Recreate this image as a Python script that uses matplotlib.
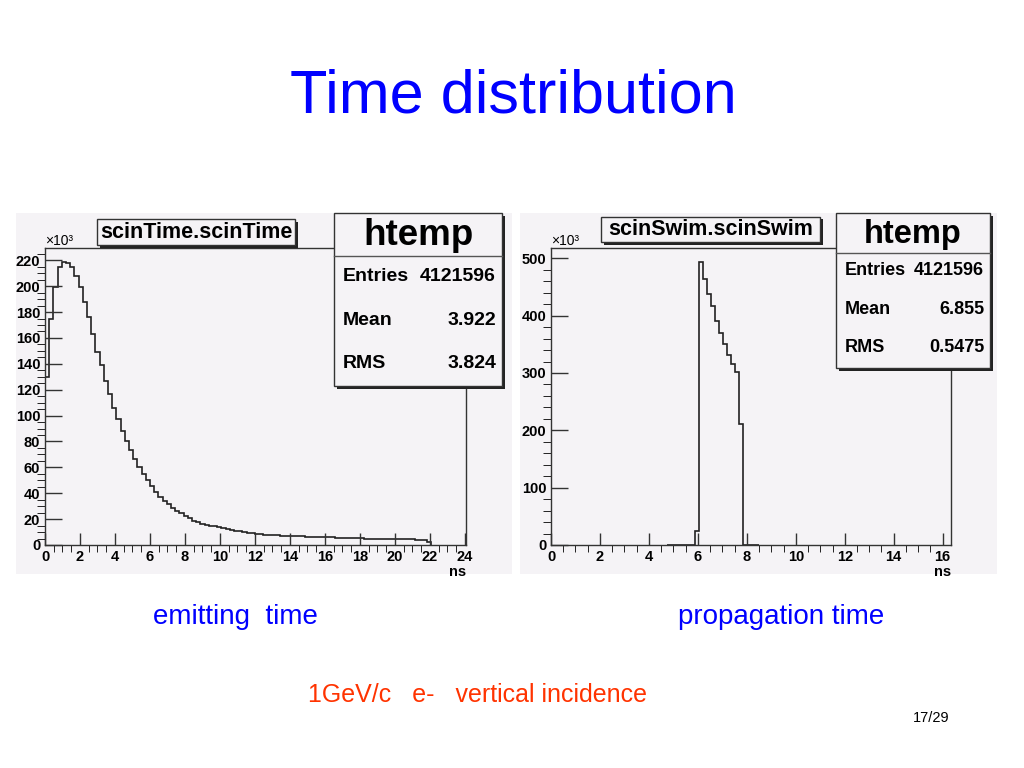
import numpy as np
import matplotlib.pyplot as plt
from matplotlib.patches import Rectangle
from matplotlib.ticker import MultipleLocator

plt.rcParams['font.family'] = ['Liberation Sans', 'DejaVu Sans']

# emitting time: entries (x10^3) per 0.24 ns bin, starting at 0 ns
emit_width = 0.24
emit_counts = [130, 175, 199.5, 215, 218.5, 218, 215, 208, 199, 188, 176, 163,
               149, 139, 127, 116.6, 105.5, 97, 88.3, 80.3, 73.4, 66.2, 60.5, 54.8,
               50.2, 45.6, 41.2, 37.3, 34.2, 31.7, 28.8, 26.5, 24.5, 22.4, 20.6, 18.8,
               17.6, 16.6, 15.8, 15.0, 14.3, 13.6, 12.9, 12.2, 11.6, 11.0, 10.5, 10.0,
               9.5, 9.1, 8.7, 8.4, 8.1, 7.8, 7.6, 7.4, 7.2, 7.0, 6.9, 6.8,
               6.7, 6.6, 6.5, 6.4, 6.2, 6.1, 6.0, 5.9, 5.8, 5.7, 5.6, 5.5,
               5.4, 5.3, 5.2, 5.1, 5.0, 4.9, 4.8, 4.8, 4.7, 4.6, 4.6, 4.5,
               4.4, 4.4, 4.3, 4.3, 4.2, 4.2, 4.1, 2.5]
emit_range = (24.06, 229.5)

# propagation time: entries (x10^3) per bin, first listed bin is bin 29
prop_width = 0.1634
prop_first_bin = 29
prop_counts = [0, 0, 0, 0, 0, 0, 0, 25,
               494, 464, 438, 416, 391, 370, 350, 332, 316, 301, 211,
               0, 0, 0, 0]
prop_range = (16.34, 518)

stat_names = ['Entries', 'Mean', 'RMS']
emit_stats = ['4121596', '3.922', '3.824']
prop_stats = ['4121596', '6.855', '0.5475']

W, H = 1024, 768
BG = '#f5f3f6'
INK = '#222222'

fig = plt.figure(figsize=(W / 100, H / 100), dpi=100)
fig.patch.set_facecolor('white')


def fx(px):
    return px / W


def fy(py):
    return 1 - py / H


def rect(x0, y0, x1, y1, shadow=0, **kw):
    if shadow:
        fig.add_artist(Rectangle((fx(x0 + shadow), fy(y1 + shadow)), (x1 - x0) / W, (y1 - y0) / H,
                                 transform=fig.transFigure, facecolor=INK, edgecolor='none',
                                 zorder=kw.get('zorder', 1)))
    fig.add_artist(Rectangle((fx(x0), fy(y1)), (x1 - x0) / W, (y1 - y0) / H,
                             transform=fig.transFigure, **kw))


def panel(canvas, frame, edges, counts, xmax, ymax, ymaj, ymin, title, tbox, sbox, stats, fs):
    rect(*canvas, facecolor=BG, edgecolor='none', zorder=-5)
    x0, y0, x1, y1 = frame
    ax = fig.add_axes([fx(x0), fy(y1), (x1 - x0) / W, (y1 - y0) / H])
    ax.set_facecolor('none')
    ax.stairs(counts, edges, baseline=0, color=INK, lw=1.2)
    ax.set_xlim(0, xmax)
    ax.set_ylim(0, ymax)
    ax.xaxis.set_major_locator(MultipleLocator(2))
    ax.xaxis.set_minor_locator(MultipleLocator(0.5))
    ax.yaxis.set_major_locator(MultipleLocator(ymaj))
    ax.yaxis.set_minor_locator(MultipleLocator(ymin))
    for s in ax.spines.values():
        s.set_color('#333333')
        s.set_linewidth(1.0)
    ax.tick_params(direction='in', colors='#333333', width=1, labelcolor='black')
    ax.tick_params(axis='y', which='major', length=12, pad=3.5)
    ax.tick_params(axis='y', which='minor', length=6)
    ax.tick_params(axis='x', which='major', length=9, pad=3.5)
    ax.tick_params(axis='x', which='minor', length=5)
    for lab in ax.get_xticklabels() + ax.get_yticklabels():
        lab.set_fontweight('bold')
        lab.set_fontsize(10.5)
    fig.text(fx(x1), fy(y1 + 27), 'ns', ha='right', va='center', fontsize=10.5, fontweight='bold')
    fig.text(fx(x0), fy(y0 - 7), '×10³', ha='left', va='center', fontsize=10)

    # title box
    bx0, by0, bx1, by1 = tbox
    rect(bx0, by0, bx1, by1, shadow=2.5, facecolor=BG, edgecolor='#333333', lw=1, zorder=2)
    fig.text(fx((bx0 + bx1) / 2), fy((by0 + by1) / 2), title, ha='center', va='center',
             fontsize=fs[0], fontweight='bold', zorder=3)

    # stats box
    sx0, sy0, sx1, sy1, sdiv, rows = sbox
    rect(sx0, sy0, sx1, sy1, shadow=2.5, facecolor=BG, edgecolor='#333333', lw=1, zorder=2)
    fig.add_artist(plt.Line2D([fx(sx0), fx(sx1)], [fy(sdiv), fy(sdiv)], transform=fig.transFigure,
                              color='#555555', lw=1, zorder=3))
    fig.text(fx((sx0 + sx1) / 2), fy((sy0 + sdiv) / 2 + 1), 'htemp', ha='center', va='center',
             fontsize=fs[1], fontweight='bold', zorder=3)
    for name, val, ry in zip(stat_names, stats, rows):
        fig.text(fx(sx0 + 9), fy(ry), name, ha='left', va='center', fontsize=fs[2],
                 fontweight='bold', zorder=3)
        fig.text(fx(sx1 - 6), fy(ry), val, ha='right', va='center', fontsize=fs[2],
                 fontweight='bold', zorder=3)
    return ax


emit_edges = np.arange(len(emit_counts) + 1) * emit_width
prop_edges = (prop_first_bin + np.arange(len(prop_counts) + 1)) * prop_width

panel((16, 213, 512, 574), (45, 248, 466, 545), emit_edges, emit_counts,
      emit_range[0], emit_range[1], 20, 5, 'scinTime.scinTime',
      (97, 219, 295, 245), (334, 213, 502, 386, 256, (277, 320, 364)), emit_stats, (15.5, 26.5, 14))

panel((520, 213, 997, 574), (551, 248, 951, 545), prop_edges, prop_counts,
      prop_range[0], prop_range[1], 100, 20, 'scinSwim.scinSwim',
      (601, 217, 820, 242), (836, 213, 990, 368, 253, (271, 310, 348)), prop_stats, (15.5, 23.5, 13))

fig.text(fx(513), fy(97), 'Time distribution', ha='center', va='center', fontsize=44, color='#0000ff')
fig.text(fx(235), fy(617), 'emitting  time', ha='center', va='center', fontsize=20, color='#0000ff')
fig.text(fx(781), fy(617), 'propagation time', ha='center', va='center', fontsize=20, color='#0000ff')
fig.text(fx(478), fy(695), '1GeV/c   e-   vertical incidence', ha='center', va='center',
         fontsize=18, color='#ff3300')
fig.text(fx(931), fy(718), '17/29', ha='center', va='center', fontsize=10.5, color='black')

fig.savefig('out.png', dpi=100, facecolor='white')
